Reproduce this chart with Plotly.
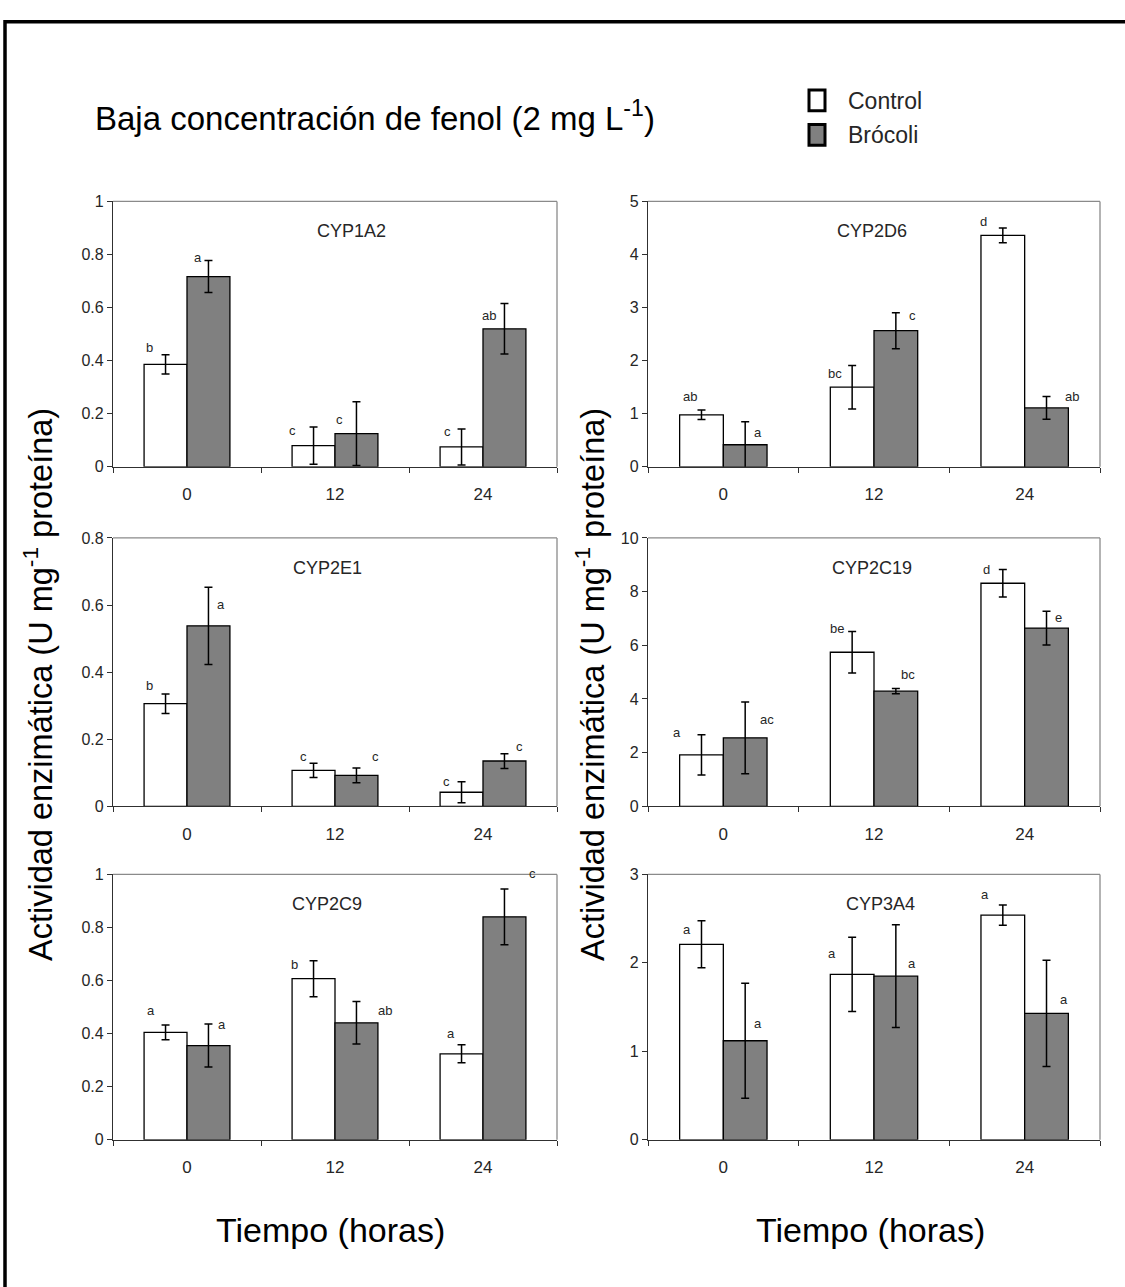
import plotly.graph_objects as go

W, H = 1125, 1287
FONT = "Liberation Sans Narrow, Liberation Sans, sans-serif"

# ---------------- data ----------------
panels = ["CYP1A2", "CYP2D6", "CYP2E1", "CYP2C19", "CYP2C9", "CYP3A4"]
categories = ["0", "12", "24"]

control_vals = {
    "CYP1A2": [0.386, 0.080, 0.075],
    "CYP2D6": [0.98, 1.50, 4.36],
    "CYP2E1": [0.306, 0.107, 0.042],
    "CYP2C19": [1.92, 5.74, 8.31],
    "CYP2C9": [0.405, 0.607, 0.324],
    "CYP3A4": [2.21, 1.87, 2.54],
}
control_err = {
    "CYP1A2": [0.036, 0.070, 0.068],
    "CYP2D6": [0.09, 0.41, 0.14],
    "CYP2E1": [0.029, 0.021, 0.031],
    "CYP2C19": [0.75, 0.77, 0.51],
    "CYP2C9": [0.028, 0.068, 0.034],
    "CYP3A4": [0.265, 0.42, 0.115],
}
broc_vals = {
    "CYP1A2": [0.717, 0.125, 0.520],
    "CYP2D6": [0.416, 2.565, 1.11],
    "CYP2E1": [0.538, 0.092, 0.135],
    "CYP2C19": [2.55, 4.29, 6.64],
    "CYP2C9": [0.355, 0.441, 0.840],
    "CYP3A4": [1.12, 1.85, 1.43],
}
broc_err = {
    "CYP1A2": [0.060, 0.120, 0.095],
    "CYP2D6": [0.435, 0.34, 0.215],
    "CYP2E1": [0.115, 0.022, 0.022],
    "CYP2C19": [1.34, 0.10, 0.63],
    "CYP2C9": [0.081, 0.080, 0.105],
    "CYP3A4": [0.65, 0.58, 0.60],
}
control_letters = {
    "CYP1A2": ["b", "c", "c"],
    "CYP2D6": ["ab", "bc", "d"],
    "CYP2E1": ["b", "c", "c"],
    "CYP2C19": ["a", "be", "d"],
    "CYP2C9": ["a", "b", "a"],
    "CYP3A4": ["a", "a", "a"],
}
broc_letters = {
    "CYP1A2": ["a", "c", "ab"],
    "CYP2D6": ["a", "c", "ab"],
    "CYP2E1": ["a", "c", "c"],
    "CYP2C19": ["ac", "bc", "e"],
    "CYP2C9": ["a", "ab", "c"],
    "CYP3A4": ["a", "a", "a"],
}
y_max = {"CYP1A2": 1, "CYP2D6": 5, "CYP2E1": 0.8, "CYP2C19": 10, "CYP2C9": 1, "CYP3A4": 3}
y_dtick = {"CYP1A2": 0.2, "CYP2D6": 1, "CYP2E1": 0.2, "CYP2C19": 2, "CYP2C9": 0.2, "CYP3A4": 1}

# ---------------- layout / style (pixel based) ----------------
col_px = [(113, 557), (648, 1100)]
row_px = [(196, 465), (537, 809), (878, 1147)]

# letter offsets (px) relative to error-bar top: (dx, dy)
ctrl_off = {
    "CYP1A2": [(-16, 7), (-21, -3), (-14, -3)],
    "CYP2D6": [(-11, 14), (-17, -8), (-19, 6)],
    "CYP2E1": [(-16, 8), (-10, 7), (-15, 0)],
    "CYP2C19": [(-24, 2), (-15, 3), (-16, 0)],
    "CYP2C9": [(-15, 14), (-19, -4), (-11, 11)],
    "CYP3A4": [(-14, -9), (-20, -16), (-18, 10)],
}
broc_off = {
    "CYP1A2": [(-10, 3), (-17, -18), (-15, -12)],
    "CYP2D6": [(13, -11), (17, -3), (25, 0)],
    "CYP2E1": [(13, -17), (19, 12), (15, 7)],
    "CYP2C19": [(22, -18), (12, 14), (12, -6)],
    "CYP2C9": [(14, 0), (29, -9), (28, 16)],
    "CYP3A4": [(13, -40), (16, -39), (17, -39)],
}
title_shift = {"CYP1A2": 16, "CYP2D6": -2, "CYP2E1": -8, "CYP2C19": -2, "CYP2C9": -8, "CYP3A4": 6}

BARGAP = 0.42
half = (1 - BARGAP) / 4.0

def px_x(p):
    return p / W

def px_y(p):
    return 1 - p / H

fig = go.Figure()
annotations = []
shapes = []
layout_axes = {}

for i, name in enumerate(panels):
    r, c = divmod(i, 2)
    n = i + 1
    xa = "x" if n == 1 else f"x{n}"
    ya = "y" if n == 1 else f"y{n}"
    x0, x1 = col_px[c]
    y0, y1 = row_px[r]

    fig.add_trace(go.Bar(
        x=categories, y=control_vals[name], name="Control",
        marker=dict(color="white", line=dict(color="black", width=1.3)),
        error_y=dict(type="data", array=control_err[name], color="black", thickness=1.5, width=4),
        xaxis=xa, yaxis=ya, showlegend=False,
    ))
    fig.add_trace(go.Bar(
        x=categories, y=broc_vals[name], name="Brócoli",
        marker=dict(color="#808080", line=dict(color="black", width=1.3)),
        error_y=dict(type="data", array=broc_err[name], color="black", thickness=1.5, width=4),
        xaxis=xa, yaxis=ya, showlegend=False,
    ))

    xkey = "xaxis" if n == 1 else f"xaxis{n}"
    ykey = "yaxis" if n == 1 else f"yaxis{n}"
    layout_axes[xkey] = dict(
        domain=[px_x(x0), px_x(x1)], anchor=ya, type="category",
        showline=True, linecolor="#303030", linewidth=1.3,
        ticks="outside", tickson="boundaries", ticklen=5, tickcolor="#303030",
        tickfont=dict(family=FONT, size=17, color="#262626"),
        ticklabelstandoff=12, showgrid=False, zeroline=False, fixedrange=True,
    )
    layout_axes[ykey] = dict(
        domain=[px_y(y1), px_y(y0)], anchor=xa, range=[0, y_max[name]],
        dtick=y_dtick[name], tick0=0,
        showline=True, linecolor="#303030", linewidth=1.3,
        ticks="outside", ticklen=5, tickcolor="#303030",
        tickfont=dict(family=FONT, size=16, color="#262626"),
        showgrid=False, zeroline=False, fixedrange=True,
    )
    # frame top & right
    shapes.append(dict(type="line", xref=f"{xa} domain", yref=f"{ya} domain",
                       x0=0, x1=1, y0=1, y1=1, line=dict(color="#8a8a8a", width=1.3)))
    shapes.append(dict(type="line", xref=f"{xa} domain", yref=f"{ya} domain",
                       x0=1, x1=1, y0=0, y1=1, line=dict(color="#8a8a8a", width=1.3)))
    # panel title
    annotations.append(dict(
        text=name, xref=f"{xa} domain", yref=f"{ya} domain", x=0.5, y=1,
        xshift=title_shift[name], yshift=-30, showarrow=False,
        xanchor="center", yanchor="middle",
        font=dict(family=FONT, size=18, color="#262626"),
    ))
    # significance letters
    for k in range(3):
        for vals, errs, lets, offs, sgn in (
            (control_vals, control_err, control_letters, ctrl_off, -1),
            (broc_vals, broc_err, broc_letters, broc_off, 1),
        ):
            dx, dy = offs[name][k]
            annotations.append(dict(
                text=lets[name][k], xref=xa, yref=ya,
                x=k + sgn * half, y=vals[name][k] + errs[name][k],
                xshift=dx, yshift=dy, showarrow=False,
                xanchor="center", yanchor="middle",
                font=dict(family=FONT, size=13, color="#262626"),
            ))

# outer border (left/top visible)
shapes.append(dict(type="rect", xref="paper", yref="paper",
                   x0=px_x(5), x1=1.02, y0=-0.02, y1=px_y(14),
                   line=dict(color="black", width=3.5), fillcolor="rgba(0,0,0,0)"))

# legend boxes
shapes.append(dict(type="rect", xref="paper", yref="paper",
                   x0=px_x(809), x1=px_x(825), y0=px_y(104), y1=px_y(83),
                   line=dict(color="black", width=3), fillcolor="white"))
shapes.append(dict(type="rect", xref="paper", yref="paper",
                   x0=px_x(809), x1=px_x(825), y0=px_y(139), y1=px_y(118),
                   line=dict(color="black", width=3), fillcolor="#808080"))
annotations.append(dict(text="Control", xref="paper", yref="paper", x=px_x(846), y=px_y(94),
                        xanchor="left", yanchor="middle", showarrow=False,
                        font=dict(family=FONT, size=23, color="#262626")))
annotations.append(dict(text="Brócoli", xref="paper", yref="paper", x=px_x(846), y=px_y(129),
                        xanchor="left", yanchor="middle", showarrow=False,
                        font=dict(family=FONT, size=23, color="#262626")))

# main title
annotations.append(dict(text="Baja concentración de fenol (2 mg L<sup>-1</sup>)", xref="paper", yref="paper",
                        x=px_x(93), y=px_y(109), xanchor="left", yanchor="middle", showarrow=False,
                        font=dict(family=FONT, size=33, color="black")))

# y titles
ytitle = "Actividad enzimática (U mg<sup>-1</sup> proteína)"
for xc in (38, 590):
    annotations.append(dict(text=ytitle, xref="paper", yref="paper", x=px_x(xc), y=px_y(686),
                            xanchor="center", yanchor="middle", textangle=-90, showarrow=False,
                            font=dict(family=FONT, size=32.5, color="black")))
# x titles
for xc in (330, 870):
    annotations.append(dict(text="Tiempo (horas)", xref="paper", yref="paper", x=px_x(xc), y=px_y(1238),
                            xanchor="center", yanchor="middle", showarrow=False,
                            font=dict(family=FONT, size=34, color="black")))

fig.update_layout(
    width=W, height=H, margin=dict(l=0, r=0, t=0, b=0),
    paper_bgcolor="white", plot_bgcolor="white",
    barmode="group", bargap=BARGAP, bargroupgap=0,
    showlegend=False, annotations=annotations, shapes=shapes,
    **layout_axes,
)

fig.write_html("out.html")
